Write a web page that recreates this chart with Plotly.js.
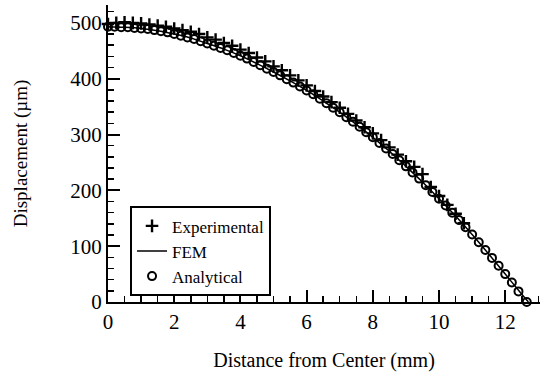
<!DOCTYPE html>
<html>
<head>
<meta charset="utf-8">
<script src="https://cdn.plot.ly/plotly-3.0.1.min.js"></script>
<style>html,body{margin:0;padding:0;background:#fff;}#chart{width:549px;height:372px;}</style>
</head>
<body>
<div id="chart"></div>
<script>
// Experimental (+)
const expX = [0,0.25,0.5,0.75,1.0,1.25,1.5,1.75,2.0,2.25,2.5,2.75,3.0,3.25,3.5,3.75,4.0,4.25,4.5,4.75,5.0,5.25,5.5,5.75,6.0,6.25,6.5,6.75,7.0,7.25,7.5,7.75,8.0,8.25,8.5,8.75,9.0,9.25,9.5,9.75,10.0,10.25,10.5,10.75];
const expY = [498,500,501,500,499,497,495,493,490,487,484,480,474,470,464,459,452,446,438,431,422,415,406,397,388,378,368,358,348,337,325,313,302,290,277,264,252,242,229,206,190,174,158,141];

// FEM (line)
const femX = [0,0.5,1,1.5,2,2.5,3,3.5,4,4.5,5,5.5,6,6.5,7,7.5,8,8.5,9,9.5,10,10.5,11,11.5,12,12.5,12.7];
const femY = [493,492,490,486,480,473,463,453,441,427,412,396,379,360,340,318,295,270,243,215,185,154,121,86,50,14,0];

// Analytical (o)
const anaX = [0,0.2,0.4,0.6,0.8,1.0,1.2,1.4,1.6,1.8,2.0,2.2,2.4,2.6,2.8,3.0,3.2,3.4,3.6,3.8,4.0,4.2,4.4,4.6,4.8,5.0,5.2,5.4,5.6,5.8,6.0,6.2,6.4,6.6,6.8,7.0,7.2,7.4,7.6,7.8,8.0,8.2,8.4,8.6,8.8,9.0,9.2,9.4,9.6,9.8,10.0,10.2,10.4,10.6,10.8,11.0,11.2,11.4,11.6,11.8,12.0,12.2,12.4,12.65];
const anaY = [493,493,492,492,491,490,489,487,485,483,480,477,474,471,467,463,459,455,451,446,441,436,430,424,418,412,406,399,393,386,379,372,364,356,348,340,331,323,314,304,295,285,275,265,254,243,232,221,209,197,185,173,160,147,134,121,107,93,79,65,50,35,19,0];

const xTicks = [0,2,4,6,8,10,12];
const yTicks = [0,100,200,300,400,500];

const serif = "'Liberation Serif', 'Times New Roman', Times, serif";

const traces = [
  {x: expX, y: expY, name: 'Experimental', mode: 'markers', type: 'scatter', cliponaxis: false,
   marker: {symbol: 'cross-thin', size: 9, color: '#000', line: {width: 2.4, color: '#000'}}},
  {x: femX, y: femY, name: 'FEM', mode: 'lines', type: 'scatter', cliponaxis: false,
   line: {color: '#000', width: 1.5, shape: 'spline'}},
  {x: anaX, y: anaY, name: 'Analytical', mode: 'markers', type: 'scatter', cliponaxis: false,
   marker: {symbol: 'circle-open', size: 8, color: '#000', line: {width: 2, color: '#000'}}}
];

const layout = {
  width: 549, height: 372,
  margin: {l: 108, r: 9, t: 5, b: 70},
  paper_bgcolor: '#fff', plot_bgcolor: '#fff',
  showlegend: true,
  font: {family: serif, size: 20, color: '#000'},
  xaxis: {
    range: [0, 13.05], tickvals: xTicks, ticktext: xTicks.map(String),
    ticks: 'inside', ticklen: 12, tickwidth: 2, tickcolor: '#000',
    minor: {dtick: 0.5, tick0: 0, ticks: 'inside', ticklen: 6, tickwidth: 1.5, tickcolor: '#000'},
    showline: true, linecolor: '#000', linewidth: 2, mirror: false,
    showgrid: false, zeroline: false,
    tickfont: {family: serif, size: 21, color: '#000'},
    title: {text: 'Distance from Center (mm)', font: {family: serif, size: 20, color: '#000'}, standoff: 20}
  },
  yaxis: {
    range: [0, 532], tickvals: yTicks, ticktext: yTicks.map(String),
    ticks: 'inside', ticklen: 12, tickwidth: 2, tickcolor: '#000',
    minor: {dtick: 20, tick0: 0, ticks: 'inside', ticklen: 6, tickwidth: 1.5, tickcolor: '#000'},
    showline: true, linecolor: '#000', linewidth: 2, mirror: false,
    showgrid: false, zeroline: false,
    tickfont: {family: serif, size: 21, color: '#000'},
    title: {text: 'Displacement (µm)', font: {family: serif, size: 19, color: '#000'}, standoff: 38}
  },
  legend: {
    x: 0.051, y: 0.322, xanchor: 'left', yanchor: 'top',
    bgcolor: '#fff', bordercolor: '#000', borderwidth: 2,
    font: {family: serif, size: 17, color: '#000'},
    tracegroupgap: 0, itemwidth: 30
  }
};

Plotly.newPlot('chart', traces, layout, {displayModeBar: false, staticPlot: true});
</script>
</body>
</html>
